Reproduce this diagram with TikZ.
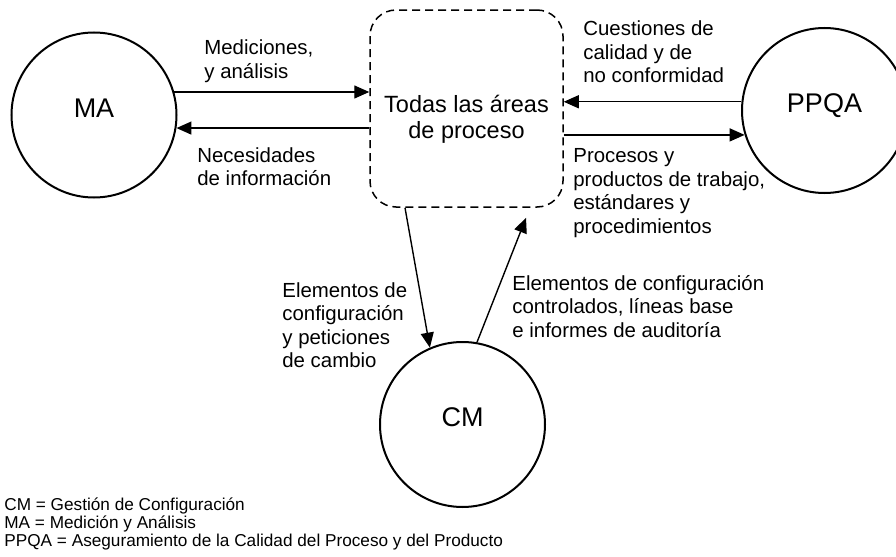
\documentclass[tikz,border=0pt]{standalone}
\usepackage{fontspec}
\setmainfont{Liberation Sans}
\usepackage{tikz}
\usetikzlibrary{arrows.meta}
\usetikzlibrary{positioning}

\begin{document}
\begin{tikzpicture}[
    x=0.5pt, y=-0.5pt,
    area/.style={circle, draw, line width=1pt, minimum size=82.5pt, inner sep=0pt,
                 text depth=7pt, font=\fontsize{13.5}{15}\selectfont},
    procbox/.style={rectangle, draw, dashed, dash pattern=on 4pt off 2.5pt, line width=0.75pt,
                    rounded corners=13pt, minimum width=96.5pt, minimum height=98.5pt},
    flow/.style={line width=0.7pt, -{Triangle[length=7.5pt, width=6.5pt]}},
    lbl/.style={anchor=west, align=left, inner sep=0pt, font=\fontsize{10.2}{11.75}\selectfont}
]
\useasboundingbox (0,0) rectangle (896,557);

% Areas de proceso
\node[area] (MA) at (94,115) {MA};
\node[area] (PPQA) at (824.5,110.5) {PPQA};
\node[area] (CM) at (462.5,424.5) {CM};

% Todas las areas
\node[procbox] (areas) at (466.5,108.5) {};
\node[align=center, font=\fontsize{11.75}{13}\selectfont] (areasLbl) at ([yshift=-5.25pt]areas.center) {Todas las áreas\\de proceso};

% Flujos con MA
\draw[flow] (MA.16) -- (MA.16 -| areas.west);
\draw[flow] (MA.-9 -| areas.west) -- (MA.-9);

% Flujos con PPQA
\draw[flow] (PPQA.174) -- (PPQA.174 -| areas.east);
\draw[flow] (PPQA.197 -| areas.east) -- (PPQA.197);

% Flujos con CM
\draw[flow] ([xshift=-30.75pt]areas.south) -- (CM.113);
\draw[flow, shorten >=5.4pt] (CM.80) -- ([xshift=31.75pt]areas.south);

% Etiquetas
\node[lbl] (medLbl) at (204,61) {Mediciones,\\y análisis};
\node[lbl] (necLbl) at (197,166.5) {Necesidades\\de información};
\node[lbl] (cueLbl) at (583,52) {Cuestiones de\\calidad y de\\no conformidad};
\node[lbl] (proLbl) at (573,193) {Procesos y\\productos de trabajo,\\estándares y\\procedimientos};
\node[lbl] (elemLbl) at (282,325) {Elementos de\\configuración\\y peticiones\\de cambio};
\node[lbl] (ctrlLbl) at (512,306.5) {Elementos de configuración\\controlados, líneas base\\e informes de auditoría};

% Leyenda
\node[lbl, font=\fontsize{8.6}{9.1}\selectfont] (legend) at (4,524) {CM = Gestión de Configuración\\MA = Medición y Análisis\\PPQA = Aseguramiento de la Calidad del Proceso y del Producto};

\end{tikzpicture}
\end{document}
